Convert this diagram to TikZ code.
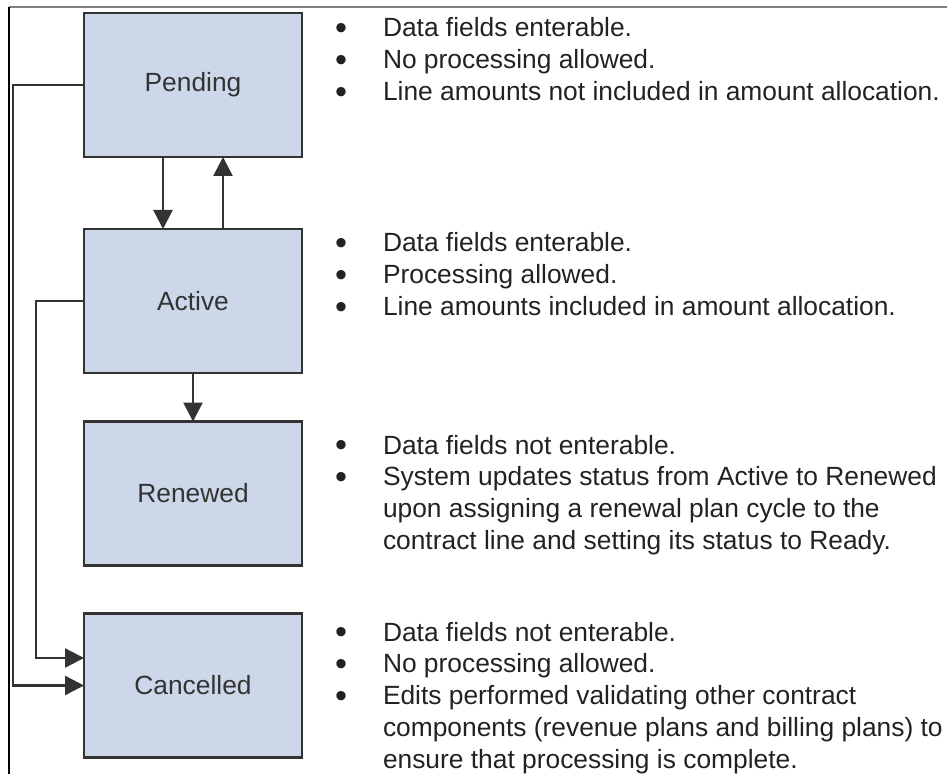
\documentclass[tikz,border=0pt]{standalone}
\usepackage{fontspec}
\setmainfont{Liberation Sans}
\usepackage{array}
\usetikzlibrary{arrows.meta,positioning,calc}
\definecolor{boxColor}{HTML}{CCD8EA}
\definecolor{lineColor}{HTML}{333333}
\definecolor{txtColor}{HTML}{222222}
\tikzset{
	stbox/.style={draw=lineColor, fill=boxColor, line width=1.6pt, minimum width=4.36cm,
		minimum height=2.88cm, inner sep=0, outer sep=0, text=lineColor},
	flow/.style={-{Triangle[length=0.38cm,width=0.38cm]}, draw=lineColor, line width=1.4pt},
	notes/.style={anchor=base west, inner sep=0, outer sep=0, text=txtColor}
}
\newcommand{\itm}{\raisebox{-0.1em}{\scalebox{1.3}{\textbullet}} &}
\newenvironment{notelist}{\begin{tabular}[t]{@{}wc{0.5cm}@{\hspace{0.59cm}}l@{}}}{\end{tabular}}

\begin{document}
\begin{tikzpicture}[font=\fontsize{15pt}{18.2pt}\selectfont]
	\useasboundingbox (0,0) rectangle (18.94,-15.48);
	% frame
	\draw[gray, line width=0.6pt] (0.18,-0.14) -- (18.94,-0.14);
	\draw[black, line width=0.6pt] (0.18,-0.14) -- (0.18,-15.48);
	
	\node[stbox] (pending) at (3.86,-1.70) {Pending};
	\node[stbox] (active) at (3.86,-6.02) {Active};
	\node[stbox] (renewed) at (3.86,-9.87) {Renewed};
	\node[stbox] (cancelled) at (3.86,-13.71) {Cancelled};
	
	\node[notes] (pendingNotes) at (6.57,-0.74) {\begin{notelist}
			\itm Data fields enterable.\\
			\itm No processing allowed.\\
			\itm Line amounts not included in amount allocation.
	\end{notelist}};
	\node[notes] (activeNotes) at (6.57,-5.04) {\begin{notelist}
			\itm Data fields enterable.\\
			\itm Processing allowed.\\
			\itm Line amounts included in amount allocation.
	\end{notelist}};
	\node[notes] (renewedNotes) at (6.57,-9.08) {\begin{notelist}
			\itm Data fields not enterable.\\
			\itm System updates status from Active to Renewed\\
			& upon assigning a renewal plan cycle to the\\
			& contract line and setting its status to Ready.
	\end{notelist}};
	\node[notes] (cancelledNotes) at (6.57,-12.82) {\begin{notelist}
			\itm Data fields not enterable.\\
			\itm No processing allowed.\\
			\itm Edits performed validating other contract\\
			& components (revenue plans and billing plans) to\\
			& ensure that processing is complete.
	\end{notelist}};
	
	\draw[flow] ([xshift=-0.6cm]pending.south) -- ([xshift=-0.6cm]active.north);
	\draw[flow] ([xshift=0.6cm]active.north) -- ([xshift=0.6cm]pending.south);
	\draw[flow] (active.south) -- (renewed.north);
	\draw[flow] (pending.west) -- ++(-1.42,0) |- (cancelled.west);
	\draw[flow] (active.west) -- ++(-0.96,0) |- ([yshift=0.55cm]cancelled.west);
\end{tikzpicture}
\end{document}
